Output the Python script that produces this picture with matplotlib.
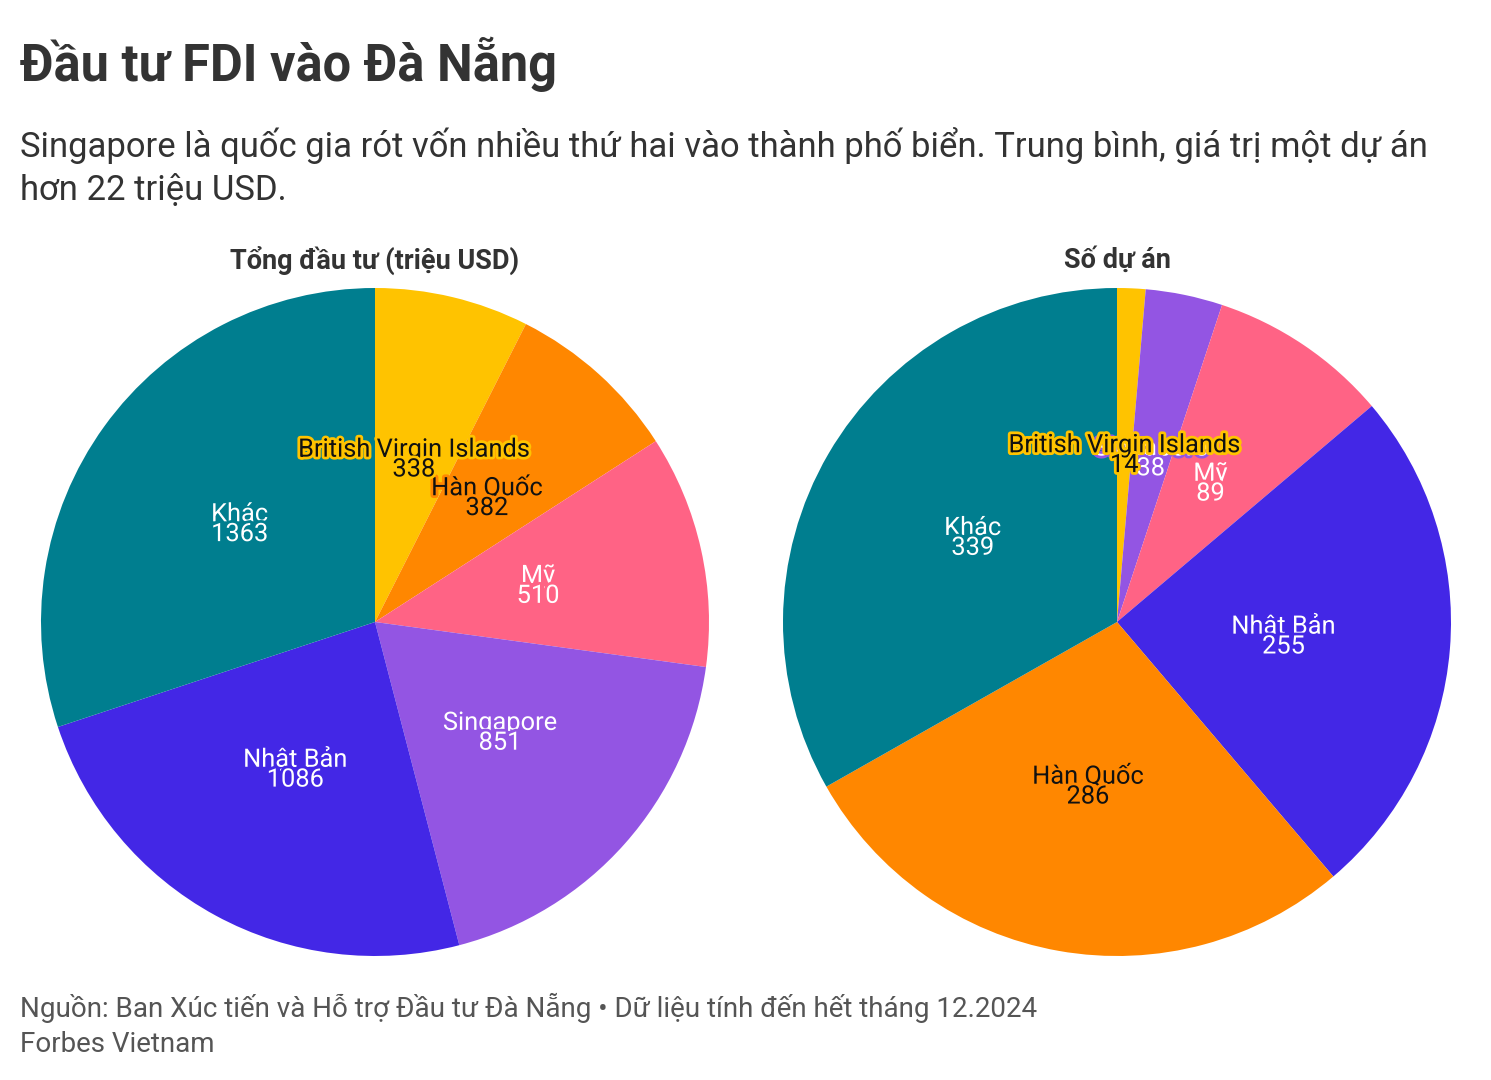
import matplotlib
matplotlib.use("Agg")
import matplotlib.pyplot as plt
import matplotlib.patheffects as pe
import numpy as np

plt.rcParams['font.family'] = ['Roboto', 'DejaVu Sans']

# ---- data ----
title = "Đầu tư FDI vào Đà Nẵng"
subtitle_lines = ["Singapore là quốc gia rót vốn nhiều thứ hai vào thành phố biển. Trung bình, giá trị một dự án",
                  "hơn 22 triệu USD."]
footer1 = "Nguồn: Ban Xúc tiến và Hỗ trợ Đầu tư Đà Nẵng • Dữ liệu tính đến hết tháng 12.2024"
footer2 = "Forbes Vietnam"

left_title = "Tổng đầu tư (triệu USD)"
left_labels = ["British Virgin Islands", "Hàn Quốc", "Mỹ", "Singapore", "Nhật Bản", "Khác"]
left_values = [338, 382, 510, 851, 1086, 1363]

right_title = "Số dự án"
right_labels = ["British Virgin Islands", "Singapore", "Mỹ", "Nhật Bản", "Hàn Quốc", "Khác"]
right_values = [14, 38, 89, 255, 286, 339]

colors = {
    "British Virgin Islands": "#FFC300",
    "Hàn Quốc": "#FF8700",
    "Mỹ": "#FF6385",
    "Singapore": "#9355E3",
    "Nhật Bản": "#4327E6",
    "Khác": "#007E8F",
}
text_colors = {
    "British Virgin Islands": "#111111",
    "Hàn Quốc": "#111111",
    "Mỹ": "white",
    "Singapore": "white",
    "Nhật Bản": "white",
    "Khác": "white",
}

W, H = 1491, 1080
fig = plt.figure(figsize=(W / 100, H / 100), dpi=100)
fig.patch.set_facecolor("white")


def px_axes(cx, cy, r):
    return fig.add_axes([(cx - r) / W, (H - cy - r) / H, 2 * r / W, 2 * r / H])


def draw_pie(ax, labels, values, ptitle, title_y):
    cols = [colors[l] for l in labels]
    wedges, _ = ax.pie(values, colors=cols, startangle=90, counterclock=False,
                       radius=1, wedgeprops=dict(linewidth=0))
    ax.set_xlim(-1, 1)
    ax.set_ylim(-1, 1)
    ax.set_aspect("equal")
    ax.axis("off")
    order = list(range(len(labels)))[::-1]
    for i in order:
        w = wedges[i]
        ang = np.deg2rad((w.theta1 + w.theta2) / 2)
        x, y = 0.5 * np.cos(ang), 0.5 * np.sin(ang)
        lab = labels[i]
        ax.text(x, y, f"{lab}\n{values[i]}", ha="center", va="center",
                fontsize=18.3, color=text_colors[lab], linespacing=0.78,
                path_effects=[pe.withStroke(linewidth=4, foreground=colors[lab])],
                zorder=5)
    ax.text(0, title_y, ptitle, ha="center", va="center", fontsize=19.5,
            fontweight="bold", color="#333333", transform=ax.transData,
            clip_on=False)


R = 334
axL = px_axes(375, 622, R)
draw_pie(axL, left_labels, left_values, left_title, (622 - 260) / R)
axR = px_axes(1117, 622, R)
draw_pie(axR, right_labels, right_values, right_title, (622 - 260) / R)

fig.text(20 / W, 1 - 64 / H, title, ha="left", va="center", fontsize=36.4,
         fontweight="bold", color="#333333")
for i, line in enumerate(subtitle_lines):
    fig.text(20 / W, 1 - (145 + 45 * i) / H, line, ha="left", va="center",
             fontsize=24.9, color="#333333")
fig.text(20 / W, 1 - 1008 / H, footer1, ha="left", va="center", fontsize=20,
         color="#555555")
fig.text(20 / W, 1 - 1045 / H, footer2, ha="left", va="center", fontsize=20,
         color="#555555")

fig.savefig("out.png", dpi=100, facecolor="white")
